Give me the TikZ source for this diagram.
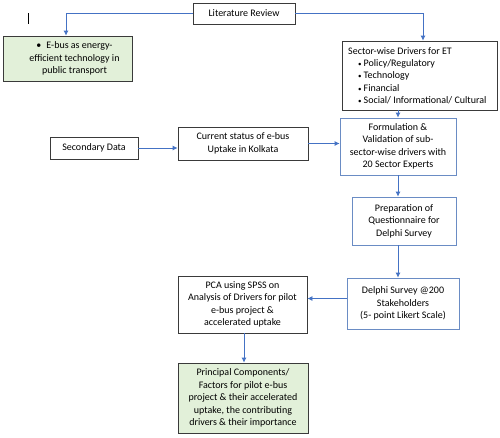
\documentclass[tikz,border=0pt]{standalone}
\usepackage{fontspec}
\setmainfont{Carlito}
\usetikzlibrary{arrows.meta}
\definecolor{arrblue}{HTML}{4472C4}
\definecolor{bluebd}{HTML}{6A8CC4}
\definecolor{greyd}{HTML}{3A3A3A}
\definecolor{lgreen}{HTML}{E2F0D9}
\tikzset{
  box/.style={draw=greyd, line width=0.8pt, rectangle, inner sep=0pt, align=center,
    font=\fontsize{10}{12.4}\selectfont},
  bbox/.style={box, draw=bluebd},
  gbox/.style={box, fill=lgreen},
  txt/.style={inner sep=0pt, align=center, font=\fontsize{10}{12.4}\selectfont},
  arr/.style={draw=arrblue, line width=0.8pt, -{Latex[length=5pt,width=5pt]}},
}
\begin{document}
\begin{tikzpicture}[x=1pt,y=-1pt]
\useasboundingbox (0,0) rectangle (500,437);
% stray cursor mark
\coordinate (c1) at (28,13);
\coordinate (c2) at (28,24);
\draw[line width=0.8pt, black] (c1) -- (c2);

\node[box, minimum width=102pt, minimum height=21pt] (lit) at (244,13.5) {Literature Review};
\node[gbox, minimum width=129pt, minimum height=45pt] (ebus) at (67.5,58.5) {};
\node[txt] (ebustext) at (74.5,58.5) {\textbullet\hspace{5pt}E-bus as energy-\\efficient technology in\\public transport};
\node[box, minimum width=155pt, minimum height=69pt] (sector) at (419.5,75.5) {};
\node[txt, align=left, anchor=west] (sectortext) at (348,75.7) {Sector-wise Drivers for ET\\
\hspace{10pt}{\scriptsize\textbullet}\hspace{2pt}Policy/Regulatory\\
\hspace{10pt}{\scriptsize\textbullet}\hspace{2pt}Technology\\
\hspace{10pt}{\scriptsize\textbullet}\hspace{2pt}Financial\\
\hspace{10pt}{\scriptsize\textbullet}\hspace{2pt}Social/ Informational/ Cultural};
\node[bbox, minimum width=116pt, minimum height=57pt] (form) at (398,146.5) {Formulation \&\\Validation of sub-\\sector-wise drivers with\\20 Sector Experts};
\node[box, minimum width=88pt, minimum height=22pt] (sec) at (94,148) {Secondary Data};
\node[box, minimum width=130pt, minimum height=33pt] (cur) at (243,143.5) {Current status of e-bus\\Uptake in Kolkata};
\node[bbox, minimum width=104pt, minimum height=48pt] (prep) at (404,221) {Preparation of\\Questionnaire for\\Delphi Survey};
\node[bbox, minimum width=112pt, minimum height=51pt] (delphi) at (403,303.5) {Delphi Survey @200\\Stakeholders\\(5- point Likert Scale)};
\node[box, minimum width=129pt, minimum height=57pt] (pca) at (242.5,304.5) {PCA using SPSS on\\Analysis of Drivers for pilot\\e-bus project \&\\accelerated uptake};
\node[gbox, minimum width=130pt, minimum height=70pt] (pc) at (243,398) {Principal Components/\\Factors for pilot e-bus\\project \& their accelerated\\uptake, the contributing\\drivers \& their importance};

\draw[arr] (lit.west) -| ([xshift=-1.5pt]ebus.north);
\draw[arr] (lit.east) -| ([xshift=3.5pt]sector.north);
\draw[arr] (sector.south -| form.north) -- (form.north);
\draw[arr] (sec.east) -- (sec.east -| cur.west);
\draw[arr] (cur.east) -- (cur.east -| form.west);
\draw[arr] (form.south) -- (form.south |- prep.north);
\draw[arr] (prep.south -| form.south) -- (form.south |- delphi.north);
\draw[arr] ([yshift=5pt]delphi.west) -- ([yshift=5pt]delphi.west -| pca.east);
\draw[arr] ([xshift=1.5pt]pca.south) -- ([xshift=1.5pt]pca.south |- pc.north);
\end{tikzpicture}
\end{document}
